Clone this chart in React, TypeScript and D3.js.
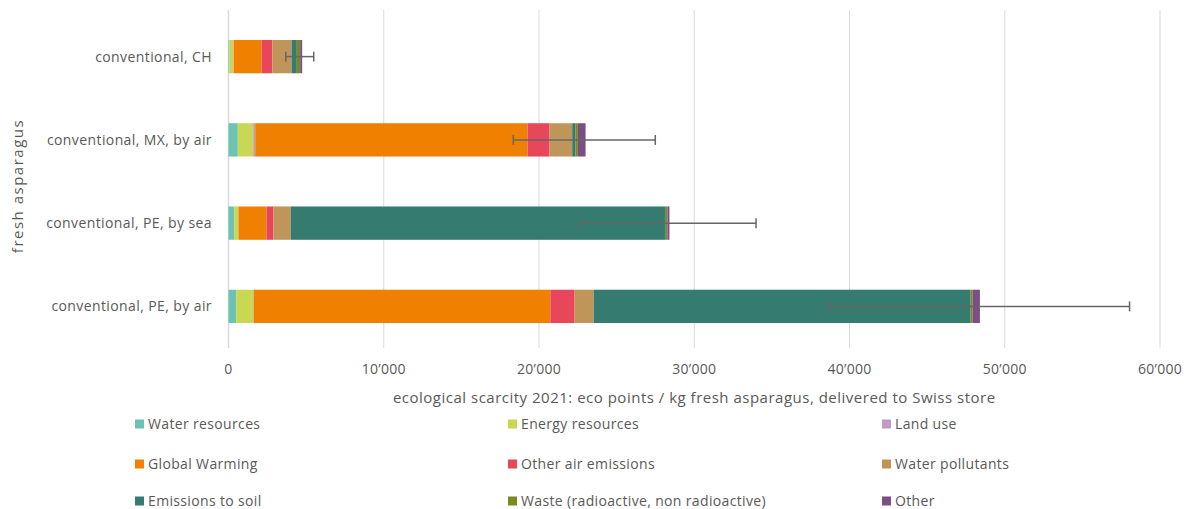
import React from "react";
import * as d3 from "d3";

const categories = [
  "conventional, CH",
  "conventional, MX, by air",
  "conventional, PE, by sea",
  "conventional, PE, by air",
];

const seriesNames = [
  "Water resources",
  "Energy resources",
  "Land use",
  "Global Warming",
  "Other air emissions",
  "Water pollutants",
  "Emissions to soil",
  "Waste (radioactive, non radioactive)",
  "Other",
];

const seriesColors = [
  "#6cc3b5",
  "#c8d854",
  "#c39bc0",
  "#f08000",
  "#e8465a",
  "#c0955a",
  "#357b6f",
  "#7a8a1e",
  "#7b4f82",
];

// values per category, in series order
const waterResources = [60, 600, 365, 495];
const energyResources = [250, 990, 260, 1095];
const landUse = [20, 130, 20, 30];
const globalWarming = [1800, 17540, 1800, 19110];
const otherAirEmissions = [690, 1420, 450, 1565];
const waterPollutants = [1240, 1460, 1115, 1225];
const emissionsToSoil = [340, 215, 24155, 24280];
const waste = [215, 150, 107, 130];
const other = [130, 495, 130, 470];

const errorLow = [3690, 18345, 22690, 38660];
const errorHigh = [5490, 27490, 33980, 58040];

const xTicks = [0, 10000, 20000, 30000, 40000, 50000, 60000];

const seriesValues = [
  waterResources,
  energyResources,
  landUse,
  globalWarming,
  otherAirEmissions,
  waterPollutants,
  emissionsToSoil,
  waste,
  other,
];

const FONT = "'Open Sans', sans-serif";
const TEXT = "#595959";

export default function App() {
  const width = 1187;
  const height = 509;
  const left = 228.5;
  const right = 1160;
  const top = 15;
  const bottom = 348;

  const x = d3.scaleLinear().domain([0, 60000]).range([left, right]);
  const y = d3
    .scaleBand<string>()
    .domain(categories)
    .range([top, bottom])
    .paddingInner(0.6)
    .paddingOuter(0.3);

  const rows = categories.map((c, i) => {
    const obj: Record<string, number | string> = { cat: c };
    seriesNames.forEach((s, j) => (obj[s] = seriesValues[j][i]));
    return obj;
  });
  const stack = d3.stack<Record<string, number | string>>().keys(seriesNames);
  const stacked = stack(rows as any);

  const fmt = (v: number) => d3.format(",")(v).replace(/,/g, "\u2019");

  const legendCols = [135, 508, 882];
  const legendRows = [424, 464, 501];

  return (
    <svg width={width} height={height} style={{ position: "absolute", left: 0, top: 0 }}>
      <rect width={width} height={height} fill="#fff" />
      {xTicks.map((t) => (
        <g key={t}>
          {t !== 0 && (
            <line x1={x(t)} x2={x(t)} y1={top - 5} y2={bottom} stroke="#d9d9d9" strokeWidth={1} />
          )}
          <text
            x={x(t)}
            y={374}
            textAnchor="middle"
            fontFamily={FONT}
            fontSize={14}
            letterSpacing={0.3}
            fill={TEXT}
          >
            {fmt(t)}
          </text>
        </g>
      ))}
      <line x1={x(0)} x2={x(0)} y1={top - 5} y2={bottom} stroke="#d9d9d9" strokeWidth={1.5} />
      {stacked.map((layer, j) => (
        <g key={seriesNames[j]} fill={seriesColors[j]}>
          {layer.map((d, i) => (
            <rect
              key={i}
              x={x(d[0])}
              width={Math.max(0, x(d[1]) - x(d[0]))}
              y={y(categories[i])!}
              height={y.bandwidth()}
            />
          ))}
        </g>
      ))}
      {categories.map((c, i) => {
        const cy = y(c)! + y.bandwidth() / 2;
        return (
          <g key={c} stroke="#666" strokeWidth={1.5}>
            <line x1={x(errorLow[i])} x2={x(errorHigh[i])} y1={cy} y2={cy} />
            <line x1={x(errorLow[i])} x2={x(errorLow[i])} y1={cy - 5} y2={cy + 5} />
            <line x1={x(errorHigh[i])} x2={x(errorHigh[i])} y1={cy - 5} y2={cy + 5} />
          </g>
        );
      })}
      {categories.map((c) => (
        <text
          key={c}
          x={212}
          y={y(c)! + y.bandwidth() / 2}
          dy="0.35em"
          textAnchor="end"
          fontFamily={FONT}
          fontSize={14}
          letterSpacing={0.4}
          fill={TEXT}
        >
          {c}
        </text>
      ))}
      <text
        transform={`translate(23, 186) rotate(-90)`}
        textAnchor="middle"
        fontFamily={FONT}
        fontSize={15}
        letterSpacing={1.5}
        fill={TEXT}
      >
        fresh asparagus
      </text>
      <text
        x={(left + right) / 2}
        y={403}
        textAnchor="middle"
        fontFamily={FONT}
        fontSize={15}
        letterSpacing={0.5}
        fill={TEXT}
      >
        ecological scarcity 2021: eco points / kg fresh asparagus, delivered to Swiss store
      </text>
      {seriesNames.map((s, j) => {
        const col = j % 3;
        const row = Math.floor(j / 3);
        const lx = legendCols[col];
        const ly = legendRows[row];
        return (
          <g key={s}>
            <rect x={lx} y={ly - 4.5} width={9} height={9} fill={seriesColors[j]} />
            <text
              x={lx + 13}
              y={ly}
              dy="0.35em"
              fontFamily={FONT}
              fontSize={14}
              letterSpacing={0.35}
              fill={TEXT}
            >
              {s}
            </text>
          </g>
        );
      })}
    </svg>
  );
}
